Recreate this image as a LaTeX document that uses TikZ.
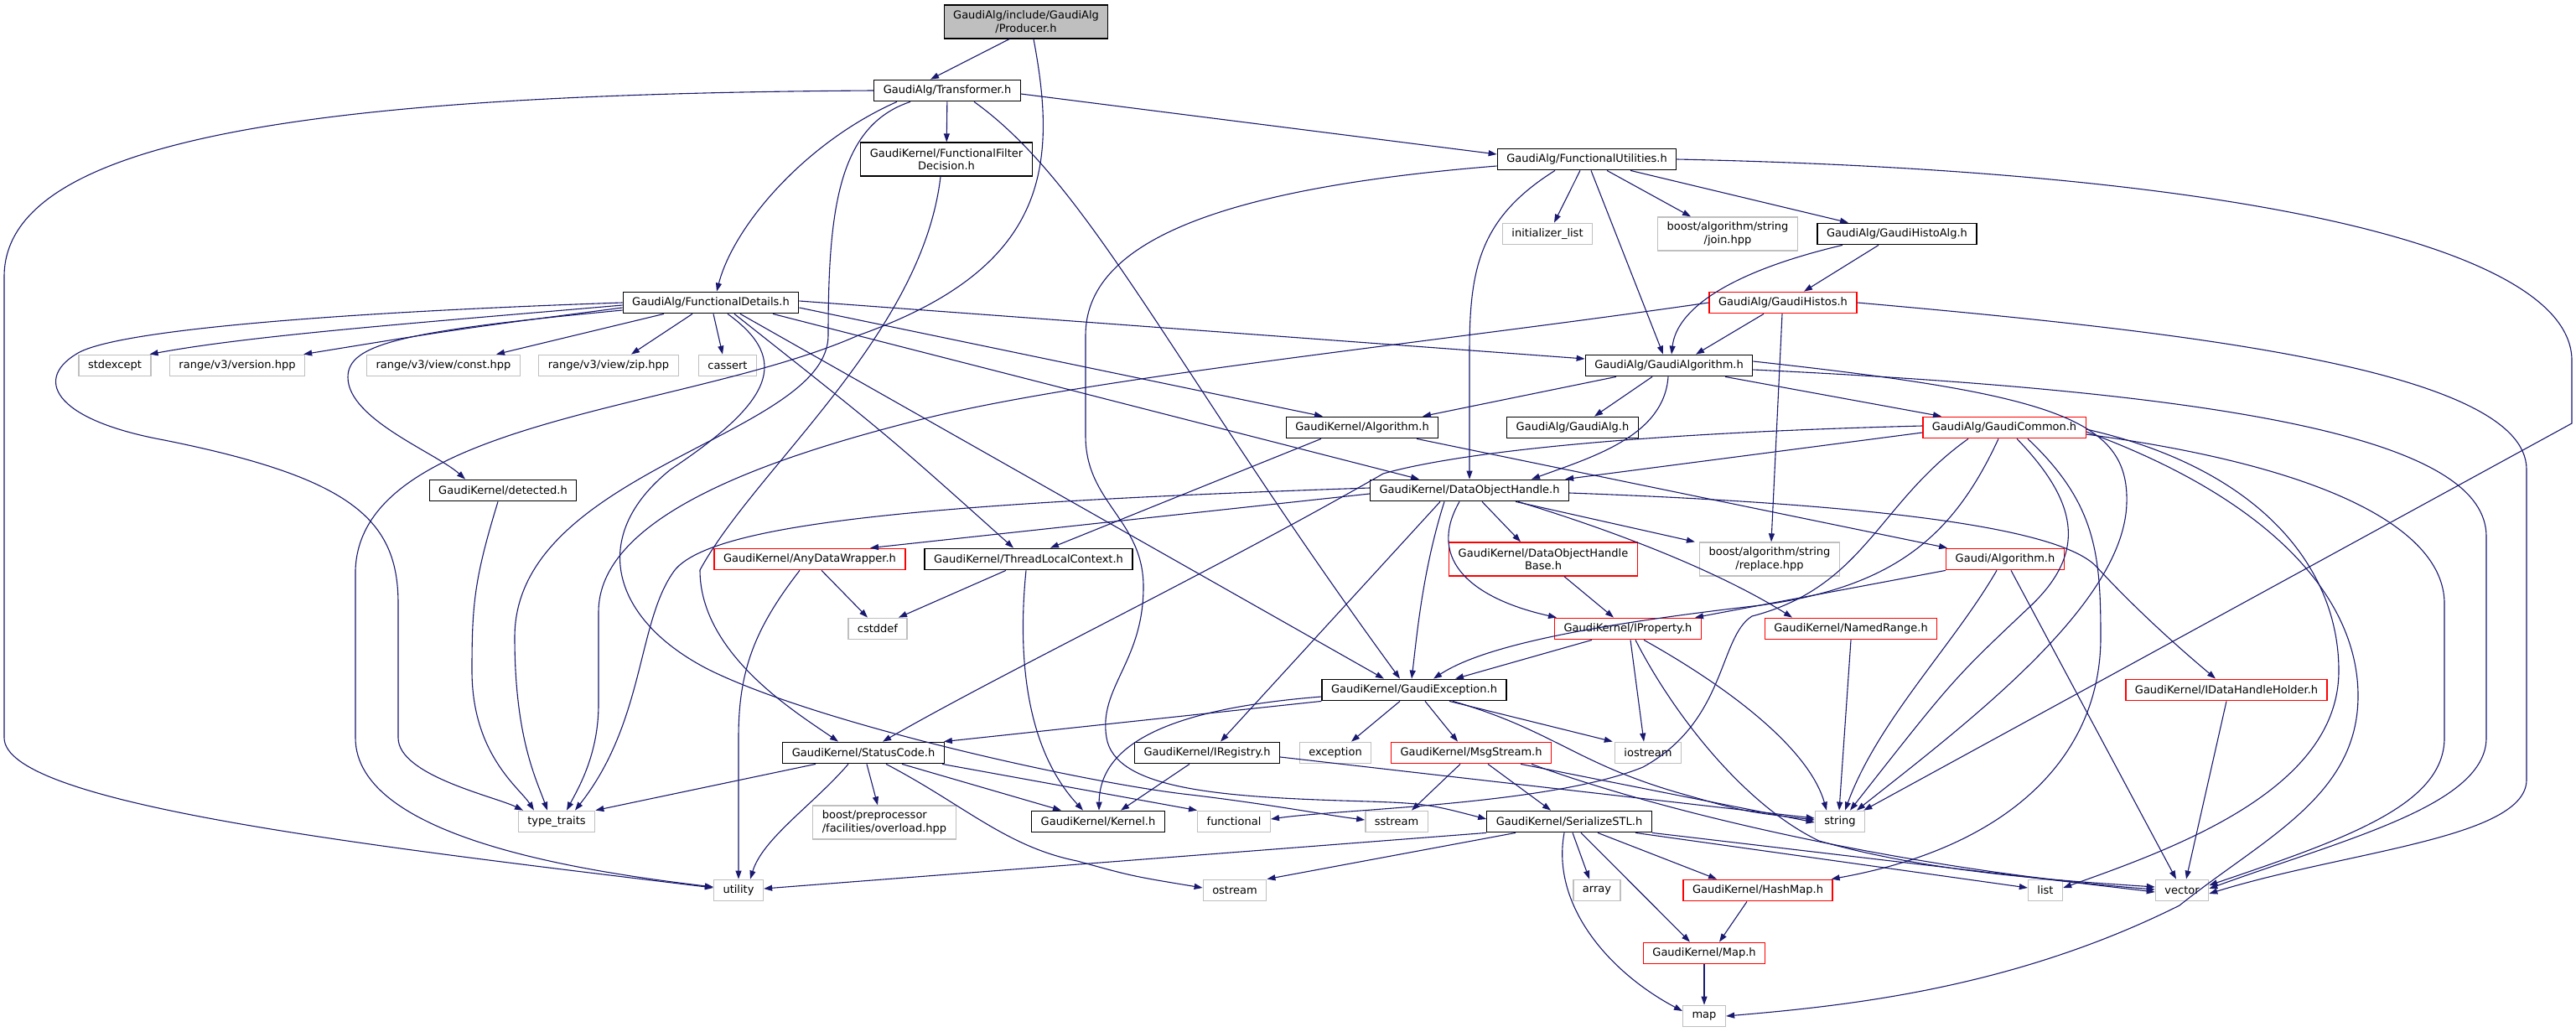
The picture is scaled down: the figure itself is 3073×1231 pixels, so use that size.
\documentclass[tikz,border=0pt]{standalone}
\usepackage{fontspec}
\setmainfont{DejaVu Sans}
\usetikzlibrary{arrows.meta}

\definecolor{edgeblue}{HTML}{191970}
\definecolor{sysgray}{HTML}{BFBFBF}
\definecolor{truncred}{HTML}{FF0000}

\begin{document}
\begin{tikzpicture}[x=1pt,y=-1pt,
    file/.style={shape=rectangle,draw=black,line width=1.3pt,fill=white,
      inner xsep=11pt,inner ysep=0pt,minimum height=25.5pt,align=center,
      font=\fontsize{13}{15.5}\selectfont},
    sysfile/.style={file,draw=sysgray},
    redfile/.style={file,draw=truncred},
    twoline/.style={minimum height=40pt},
    inc/.style={color=edgeblue,line width=1.1pt,-{Triangle[length=10pt,width=7pt]}}]
        \useasboundingbox (0,0) rectangle (3073,1231);

        \node[file,twoline,fill=sysgray] (prod) at (1224,26) {GaudiAlg/include/GaudiAlg\\/Producer.h};
        \node[file]    (trans)    at (1130,108) {GaudiAlg/Transformer.h};
        \node[file,twoline] (ffd) at (1129,190) {GaudiKernel/FunctionalFilter\\Decision.h};
        \node[file]    (futil)    at (1893,190) {GaudiAlg/FunctionalUtilities.h};
        \node[sysfile] (initl)    at (1846,279) {initializer\_list};
        \node[sysfile,twoline] (join) at (2061,279) {boost/algorithm/string\\/join.hpp};
        \node[file]    (histoalg) at (2263,279) {GaudiAlg/GaudiHistoAlg.h};
        \node[file]    (fdet)     at (848,361)  {GaudiAlg/FunctionalDetails.h};
        \node[redfile] (histos)   at (2127,361) {GaudiAlg/GaudiHistos.h};
        \node[sysfile] (stdexc)   at (137,436)  {stdexcept};
        \node[sysfile] (rver)     at (283,436)  {range/v3/version.hpp};
        \node[sysfile] (rconst)   at (529,436)  {range/v3/view/const.hpp};
        \node[sysfile] (rzip)     at (726,436)  {range/v3/view/zip.hpp};
        \node[sysfile] (cassert)  at (868,436)  {cassert};
        \node[file]    (galgo)    at (1991,436) {GaudiAlg/GaudiAlgorithm.h};
        \node[file]    (kalgo)    at (1625,510) {GaudiKernel/Algorithm.h};
        \node[file]    (galg)     at (1876,510) {GaudiAlg/GaudiAlg.h};
        \node[redfile] (gcommon)  at (2391,510) {GaudiAlg/GaudiCommon.h};
        \node[file]    (detected) at (600,585)  {GaudiKernel/detected.h};
        \node[file]    (doh)      at (1753,585) {GaudiKernel/DataObjectHandle.h};
        \node[redfile] (anydw)    at (966,667)  {GaudiKernel/AnyDataWrapper.h};
        \node[file]    (tlc)      at (1227,667) {GaudiKernel/ThreadLocalContext.h};
        \node[redfile,twoline] (dohbase) at (1841,667) {GaudiKernel/DataObjectHandle\\Base.h};
        \node[sysfile,twoline] (replace) at (2111,667) {boost/algorithm/string\\/replace.hpp};
        \node[redfile] (galgorithm) at (2392,667) {Gaudi/Algorithm.h};
        \node[sysfile] (cstddef)  at (1047,750) {cstddef};
        \node[redfile] (iprop)    at (1942,750) {GaudiKernel/IProperty.h};
        \node[redfile] (named)    at (2208,750) {GaudiKernel/NamedRange.h};
        \node[file]    (gexc)     at (1687,823) {GaudiKernel/GaudiException.h};
        \node[redfile] (dhholder) at (2656,823) {GaudiKernel/IDataHandleHolder.h};
        \node[file]    (status)   at (1030,898) {GaudiKernel/StatusCode.h};
        \node[file]    (ireg)     at (1440,898) {GaudiKernel/IRegistry.h};
        \node[sysfile] (exception) at (1593,898) {exception};
        \node[redfile] (msg)      at (1755,898) {GaudiKernel/MsgStream.h};
        \node[sysfile] (iostream) at (1966,898) {iostream};
        \node[sysfile] (ttraits)  at (664,980)  {type\_traits};
        \node[sysfile,twoline,align=left] (overload) at (1055,981) {boost/preprocessor\\/facilities/overload.hpp};
        \node[file]    (kernel)   at (1310,980) {GaudiKernel/Kernel.h};
        \node[sysfile] (functional) at (1472,980) {functional};
        \node[sysfile] (sstream)  at (1666,980) {sstream};
        \node[file]    (sstl)     at (1872,980) {GaudiKernel/SerializeSTL.h};
        \node[sysfile] (string)   at (2195,980) {string};
        \node[sysfile] (utility)  at (881,1062) {utility};
        \node[sysfile] (ostream)  at (1473,1062) {ostream};
        \node[sysfile] (array)    at (1905,1062) {array};
        \node[redfile] (hashmap)  at (2097,1062) {GaudiKernel/HashMap.h};
        \node[sysfile] (list)     at (2440,1062) {list};
        \node[sysfile] (vector)   at (2603,1062) {vector};
        \node[redfile] (mapgk)    at (2033,1137) {GaudiKernel/Map.h};
        \node[sysfile] (map)      at (2033,1212) {map};

        % Producer.h
        \path[inc] ([xshift=-20]prod.south) edge ([xshift=-20]trans.north);
        \draw[inc] ([xshift=9]prod.south) .. controls (1262,200) and (1250,320) .. (1024,400) .. controls (820,490) and (430,500) .. (424,680) -- (424,880) .. controls (424,1000) and (700,1040) .. ([yshift=4]utility.west);

        % Transformer.h
        \draw[inc] (trans.west) .. controls (400,112) and (5,160) .. (5,330) -- (5,880) .. controls (5,960) and (450,1010) .. ([yshift=3]utility.west);
        \draw[inc] ([xshift=-60]trans.south) .. controls (960,170) and (875,270) .. ([xshift=7]fdet.north);
        \draw[inc] ([xshift=-44]trans.south) .. controls (1000,150) and (988,250) .. (988,400) .. controls (988,520) and (614,560) .. (614,760) .. controls (614,880) and (640,930) .. ([xshift=-11]ttraits.north);
        \path[inc] (trans) edge (ffd);
        \draw[inc] ([xshift=32]trans.south) .. controls (1300,220) and (1400,440) .. ([xshift=-17]gexc.north);
        \path[inc] ([yshift=-4]trans.east) edge ([yshift=6]futil.west);

        % FunctionalFilterDecision.h
        \draw[inc] ([xshift=-7]ffd.south) .. controls (1100,400) and (900,560) .. (835,680) .. controls (835,780) and (950,850) .. ([xshift=-30]status.north);

        % FunctionalUtilities.h
        \draw[inc] ([yshift=-8]futil.west) .. controls (1450,225) and (1295,290) .. (1295,400) -- (1295,520) .. controls (1295,600) and (1364,620) .. (1364,700) .. controls (1364,790) and (1310,820) .. (1320,880) .. controls (1330,940) and (1450,950) .. (1600,955) .. controls (1700,958) .. ([yshift=3]sstl.west);
        \draw[inc] ([xshift=-38]futil.south) .. controls (1765,260) and (1753,320) .. (1753,420) -- (doh.north);
        \path[inc] ([xshift=-8]futil.south) edge ([xshift=8]initl.north);
        \path[inc] ([xshift=5]futil.south) edge ([xshift=-7]galgo.north);
        \path[inc] ([xshift=24]futil.south) edge ([xshift=-44]join.north);
        \path[inc] ([xshift=52]futil.south) edge ([xshift=-58]histoalg.north);
        \draw[inc] (futil.east) .. controls (2700,205) and (3068,300) .. (3068,430) -- (3068,505) -- ([xshift=-2]string.north east);

        % GaudiHistoAlg.h
        \draw[inc] ([xshift=-65]histoalg.south) .. controls (2060,325) and (2000,370) .. ([xshift=3]galgo.north);
        \path[inc] ([xshift=-22]histoalg.south) edge ([xshift=25]histos.north);

        % GaudiHistos.h
        \draw[inc] (histos.west) .. controls (1700,410) and (1300,450) .. (1100,500) .. controls (900,550) and (714,620) .. (714,730) -- (714,840) .. controls (714,900) and (690,940) .. ([xshift=12]ttraits.north);
        \path[inc] ([xshift=-23]histos.south) edge ([xshift=32]galgo.north);
        \path[inc] ([xshift=-1]histos.south) edge ([xshift=2]replace.north);
        \draw[inc] (histos.east) .. controls (2600,395) and (3014,440) .. (3014,560) -- (3014,930) .. controls (3014,1000) and (2800,1015) .. ([yshift=-4]vector.east);

        % FunctionalDetails.h
        \draw[inc] ([yshift=-3]fdet.west) .. controls (500,385) and (300,400) .. ([xshift=-2]stdexc.north east);
        \draw[inc] ([yshift=-6]fdet.west) .. controls (550,392) .. ([xshift=-2]rver.north east);
        \path[inc] ([xshift=-56]fdet.south) edge ([xshift=63]rconst.north);
        \path[inc] ([xshift=-22]fdet.south) edge ([xshift=27]rzip.north);
        \path[inc] ([xshift=3]fdet.south) edge ([xshift=-6]cassert.north);
        \draw[inc] ([yshift=-9]fdet.west) .. controls (480,395) and (415,410) .. (415,450) .. controls (415,500) and (520,540) .. ([xshift=-45]detected.north);
        \draw[inc] (fdet.west) .. controls (420,372) and (150,392) .. (95,420) .. controls (40,450) and (60,500) .. (196,525) .. controls (420,570) and (475,620) .. (475,720) -- (475,880) .. controls (475,925) and (590,950) .. ([xshift=-40]ttraits.north);
        \path[inc] ([yshift=2]fdet.east) edge ([yshift=8]galgo.west);
        \path[inc] ([yshift=-6]fdet.east) edge ([xshift=-47]kalgo.north);
        \path[inc] ([xshift=74]fdet.south) edge ([xshift=-60]doh.north);
        \path[inc] ([xshift=35]fdet.south) edge ([xshift=-36]gexc.north);
        \draw[inc] ([xshift=28]fdet.south) .. controls (1060,520) .. ([xshift=-18]tlc.north);
        \draw[inc] ([xshift=20]fdet.south) .. controls (945,430) and (920,480) .. (800,560) .. controls (700,640) and (730,740) .. (846,799) .. controls (980,865) and (1300,935) .. (1420,948) .. controls (1520,960) and (1580,972) .. ([yshift=2]sstream.west);

        % detected.h
        \draw[inc] ([xshift=-6]detected.south) .. controls (566,690) and (563,720) .. (563,800) .. controls (563,900) and (620,940) .. ([xshift=-27]ttraits.north);

        % GaudiAlgorithm.h
        \path[inc] ([xshift=-63]galgo.south) edge ([xshift=72]kalgo.north);
        \path[inc] ([xshift=-20]galgo.south) edge ([xshift=26]galg.north);
        \path[inc] ([xshift=67]galgo.south) edge ([xshift=-75]gcommon.north);
        \draw[inc] ([xshift=-1]galgo.south) .. controls (1985,520) and (1900,545) .. ([xshift=74]doh.north);
        \draw[inc] ([yshift=5]galgo.east) .. controls (2450,470) and (2540,500) .. (2537,600) .. controls (2534,720) and (2350,860) .. ([xshift=20]string.north);
        \draw[inc] ([yshift=-5]galgo.east) .. controls (2700,470) and (2966,530) .. (2966,640) -- (2966,880) .. controls (2966,960) and (2800,1000) .. ([yshift=2]vector.east);

        % GaudiKernel/Algorithm.h
        \path[inc] ([xshift=-49]kalgo.south) edge ([xshift=26]tlc.north);
        \path[inc] ([xshift=65]kalgo.south) edge ([xshift=2]galgorithm.north west);

        % GaudiCommon.h
        \draw[inc] ([yshift=2]gcommon.west) .. controls (1900,518) and (1720,545) .. (1650,565) .. controls (1450,680) and (1200,800) .. ([xshift=23]status.north);
        \path[inc] ([yshift=-6]gcommon.west) edge ([xshift=-5]doh.north east);
        \draw[inc] ([xshift=-7]gcommon.south) .. controls (2330,640) and (2260,700) .. (2100,722) .. controls (1900,745) and (1770,770) .. ([xshift=23]gexc.north);
        \draw[inc] ([xshift=-43]gcommon.south) .. controls (2240,600) and (2225,700) .. (2090,735) .. controls (2050,760) and (2060,860) .. (1960,915) .. controls (1850,960) and (1600,965) .. ([yshift=3]functional.east);
        \draw[inc] ([xshift=15]gcommon.south) .. controls (2480,600) and (2490,660) .. (2420,725) .. controls (2330,810) .. ([xshift=12]string.north);
        \draw[inc] ([xshift=28]gcommon.south) .. controls (2500,600) and (2506,660) .. (2506,760) .. controls (2506,900) and (2400,1010) .. ([xshift=-2]hashmap.north east);
        \draw[inc] ([yshift=-2]gcommon.east) .. controls (2700,560) and (2790,680) .. (2790,800) .. controls (2790,940) and (2600,1010) .. ([yshift=3]list.east);
        \draw[inc] ([yshift=-5]gcommon.east) .. controls (2720,600) and (2813,720) .. (2813,830) .. controls (2813,950) and (2700,1000) .. (2600,1080) .. controls (2400,1180) and (2200,1200) .. (map.east);
        \draw[inc] ([yshift=-8]gcommon.east) .. controls (2800,560) and (2916,640) .. (2916,720) -- (2916,880) .. controls (2916,960) and (2800,1000) .. ([yshift=6]vector.east);

        % DataObjectHandle.h
        \draw[inc] ([yshift=3]doh.west) .. controls (1100,600) and (850,625) .. (805,680) .. controls (760,740) and (770,860) .. ([xshift=22]ttraits.north);
        \path[inc] ([yshift=-4]doh.west) edge ([xshift=72]anydw.north);
        \path[inc] ([xshift=-35]doh.south) edge ([xshift=16]ireg.north);
        \draw[inc] ([xshift=-30]doh.south) .. controls (1697,680) and (1690,760) .. ([xshift=-3]gexc.north);
        \draw[inc] ([xshift=-12]doh.south) .. controls (1700,670) and (1760,715) .. ([xshift=3]iprop.north west);
        \path[inc] ([xshift=15]doh.south) edge ([xshift=-27]dohbase.north);
        \path[inc] ([xshift=55]doh.south) edge ([xshift=-5]replace.north west);
        \draw[inc] ([xshift=58]doh.south) .. controls (1980,650) and (2080,700) .. ([xshift=-70]named.north);
        \draw[inc] ([yshift=-3]doh.east) .. controls (2200,600) and (2450,625) .. (2500,675) .. controls (2560,740) and (2620,790) .. ([xshift=-13]dhholder.north);

        % DataObjectHandleBase.h
        \path[inc] ([xshift=25]dohbase.south) edge ([xshift=-17]iprop.north);

        % IProperty.h
        \path[inc] ([xshift=-43]iprop.south) edge ([xshift=49]gexc.north);
        \path[inc] ([xshift=3]iprop.south) edge ([xshift=-5]iostream.north);
        \draw[inc] ([xshift=19]iprop.south) .. controls (2080,830) and (2160,900) .. ([xshift=-16]string.north);
        \draw[inc] ([xshift=9]iprop.south) .. controls (1995,850) and (2080,960) .. (2170,1003) .. controls (2300,1040) and (2450,1050) .. ([yshift=4]vector.west);

        % Gaudi/Algorithm.h
        \path[inc] (galgorithm.south west) edge ([xshift=-8]iprop.north east);
        \draw[inc] ([xshift=-10]galgorithm.south) .. controls (2330,770) and (2240,860) .. ([xshift=6]string.north);
        \path[inc] ([xshift=7]galgorithm.south) edge ([xshift=-7]vector.north);

        % NamedRange.h, IDataHandleHolder.h
        \path[inc] (named.south) edge ([xshift=-1]string.north);
        \path[inc] (dhholder.south) edge ([xshift=5]vector.north);

        % AnyDataWrapper.h
        \draw[inc] ([xshift=-12]anydw.south) .. controls (900,750) and (881,800) .. (881,880) -- (utility.north);
        \path[inc] ([xshift=14]anydw.south) edge ([xshift=-12]cstddef.north);

        % ThreadLocalContext.h
        \path[inc] ([xshift=-27]tlc.south) edge ([xshift=25]cstddef.north);
        \draw[inc] ([xshift=-3]tlc.south) .. controls (1212,800) and (1230,900) .. ([xshift=-18]kernel.north);

        % GaudiException.h
        \path[inc] (gexc.south west) edge ([xshift=-1]status.north east);
        \draw[inc] ([yshift=-8]gexc.west) .. controls (1400,845) and (1312,885) .. ([xshift=1]kernel.north);
        \path[inc] ([xshift=-17]gexc.south) edge ([xshift=19]exception.north);
        \path[inc] ([xshift=13]gexc.south) edge ([xshift=-16]msg.north);
        \path[inc] ([xshift=42]gexc.south) edge ([xshift=-2]iostream.north west);
        \draw[inc] ([xshift=46]gexc.south) .. controls (1850,870) and (1880,910) .. (2000,945) .. controls (2080,968) .. ([yshift=2]string.west);

        % IRegistry.h
        \path[inc] ([xshift=-21]ireg.south) edge ([xshift=27]kernel.north);
        \path[inc] ([yshift=-5]ireg.east) edge ([yshift=4]string.west);

        % StatusCode.h
        \path[inc] ([xshift=-57]status.south) edge (ttraits.north east);
        \draw[inc] ([xshift=-18]status.south) .. controls (970,960) and (910,1000) .. ([xshift=14]utility.north);
        \path[inc] ([xshift=4]status.south) edge ([xshift=-8]overload.north);
        \path[inc] ([xshift=46]status.south) edge ([xshift=-44]kernel.north);
        \path[inc] ([xshift=-3]status.south east) edge (functional.north west);
        \draw[inc] ([xshift=27]status.south) .. controls (1150,960) and (1200,1010) .. (1285,1027) .. controls (1350,1045) .. ([yshift=3]ostream.west);

        % MsgStream.h
        \path[inc] ([xshift=-13]msg.south) edge ([xshift=18]sstream.north);
        \path[inc] ([xshift=20]msg.south) edge ([xshift=-22]sstl.north);
        \path[inc] ([xshift=59]msg.south) edge ([yshift=-1]string.west);
        \draw[inc] ([xshift=72]msg.south) .. controls (2000,975) and (2300,1040) .. ([yshift=1]vector.west);

        % SerializeSTL.h
        \path[inc] (sstl.south west) edge ([yshift=2]utility.east);
        \path[inc] ([xshift=-64]sstl.south) edge (ostream.north east);
        \draw[inc] ([xshift=-6]sstl.south) .. controls (1850,1080) and (1920,1160) .. ([yshift=6]map.west);
        \path[inc] ([xshift=4]sstl.south) edge ([xshift=-9]array.north);
        \path[inc] ([xshift=14]sstl.south) edge ([xshift=-17]mapgk.north);
        \path[inc] ([xshift=34]sstl.south) edge ([xshift=-49]hashmap.north);
        \path[inc] ([xshift=79]sstl.south) edge ([yshift=3]list.west);
        \path[inc] (sstl.south east) edge ([yshift=-2]vector.west);

        % HashMap.h, Map.h
        \path[inc] ([xshift=-13]hashmap.south) edge ([xshift=18]mapgk.north);
        \path[inc] (mapgk) edge (map);
    \end{tikzpicture}
\end{document}
